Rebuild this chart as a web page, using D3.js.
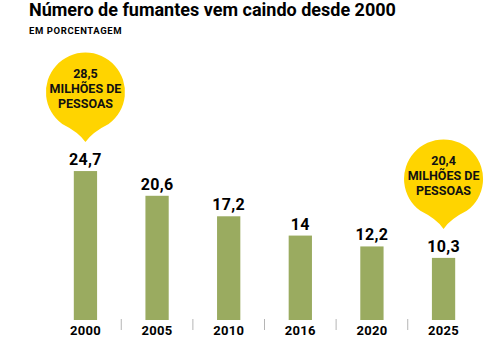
<!DOCTYPE html>
<html>
<head>
<meta charset="utf-8">
<script src="https://cdn.jsdelivr.net/npm/d3@7"></script>
<style>
  body { margin: 0; background: #fff; }
  svg { display: block; font-family: Roboto, 'DejaVu Sans', sans-serif; }
  .title { font-size: 18px; font-weight: 700; fill: #000; }
  .subtitle { font-size: 9.5px; font-weight: 700; fill: #000; letter-spacing: 0.6px; }
  .bar-label { font-size: 16px; font-weight: 700; fill: #000; letter-spacing: 0.3px; }
  .axis text { font-size: 13px; font-weight: 700; fill: #000; font-family: Roboto, sans-serif; letter-spacing: 0.3px; }
  .bubble-text { font-size: 12.5px; font-weight: 700; fill: #111; }
</style>
</head>
<body>
<svg id="chart"></svg>
<script>
const years = ['2000', '2005', '2010', '2016', '2020', '2025'];
const values = [24.7, 20.6, 17.2, 14, 12.2, 10.3];
const valueLabels = ['24,7', '20,6', '17,2', '14', '12,2', '10,3'];

// callouts: which bar, and the lines inside the balloon
const calloutYears = ['2000', '2025'];
const calloutLines = [
  ['28,5', 'MILHÕES DE', 'PESSOAS'],
  ['20,4', 'MILHÕES DE', 'PESSOAS'],
];

const width = 498;
const height = 351;
const baseline = 320;

const svg = d3.select('#chart')
  .attr('width', width)
  .attr('height', height);

const x = d3.scaleBand()
  .domain(years)
  .range([38, 491])
  .paddingInner(0.675)
  .paddingOuter(0.5);

const y = d3.scaleLinear()
  .domain([0, 25])
  .range([baseline, baseline - 25 * 6.03]);

// Title
svg.append('text')
  .attr('class', 'title')
  .attr('x', 29)
  .attr('y', 16)
  .text('Número de fumantes vem caindo desde 2000');

svg.append('text')
  .attr('class', 'subtitle')
  .attr('x', 29)
  .attr('y', 33.5)
  .text('EM PORCENTAGEM');

// Bars
svg.selectAll('.bar')
  .data(years)
  .enter().append('rect')
    .attr('class', 'bar')
    .attr('fill', '#9aab60')
    .attr('x', d => x(d))
    .attr('y', (d, i) => y(values[i]))
    .attr('width', x.bandwidth())
    .attr('height', (d, i) => baseline - y(values[i]));

// Bar labels
svg.selectAll('.bar-label')
  .data(years)
  .enter().append('text')
    .attr('class', 'bar-label')
    .attr('text-anchor', 'middle')
    .attr('x', d => x(d) + x.bandwidth() / 2)
    .attr('y', (d, i) => y(values[i]) - 6)
    .text((d, i) => valueLabels[i]);

// X axis (labels only)
const xAxis = d3.axisBottom(x)
  .tickSize(0)
  .tickPadding(6);

svg.append('g')
  .attr('class', 'axis x')
  .attr('transform', `translate(0, ${baseline})`)
  .call(xAxis)
  .select('.domain')
    .remove();

// separators between years
const step = x.step();
svg.selectAll('.sep')
  .data(years.slice(1))
  .enter().append('line')
    .attr('class', 'sep')
    .attr('x1', d => x(d) + x.bandwidth() / 2 - step / 2)
    .attr('x2', d => x(d) + x.bandwidth() / 2 - step / 2)
    .attr('y1', baseline - 1)
    .attr('y2', baseline + 10)
    .attr('stroke', '#b5b5b5')
    .attr('stroke-width', 1);

// Balloons
const r = 39.5;
const tipDist = 50;
function balloonPath(cx, cy) {
  const a = 36 * Math.PI / 180;
  const px = r * Math.sin(a);
  const py = r * Math.cos(a);
  const tipY = cy + tipDist;
  return `M${cx},${tipY}` +
    `Q${cx - 7},${cy + 40} ${cx - px},${cy + py}` +
    `A${r},${r} 0 1 1 ${cx + px},${cy + py}` +
    `Q${cx + 7},${cy + 40} ${cx},${tipY}Z`;
}

calloutYears.forEach((yr, k) => {
  const i = years.indexOf(yr);
  const cx = x(yr) + x.bandwidth() / 2;
  const tipY = y(values[i]) - 29;
  const cy = tipY - tipDist;
  const g = svg.append('g').attr('class', 'balloon');
  g.append('path')
    .attr('d', balloonPath(cx, cy))
    .attr('fill', '#ffd400');
  g.selectAll('text')
    .data(calloutLines[k])
    .enter().append('text')
      .attr('class', 'bubble-text')
      .attr('text-anchor', 'middle')
      .attr('x', cx)
      .attr('y', (d, j) => cy + 1 + (j - 1) * 15)
      .text(d => d);
});
</script>
</body>
</html>
